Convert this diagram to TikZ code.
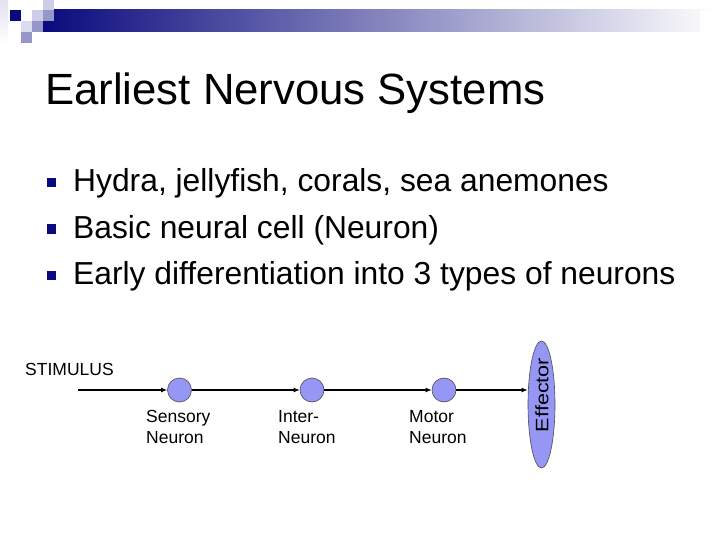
\documentclass[tikz,border=0pt]{standalone}
\usepackage{fontspec}
\setmainfont{Liberation Sans}
\usetikzlibrary{arrows.meta,shapes.geometric}
\definecolor{navy}{RGB}{10,10,125}
\definecolor{lilac}{RGB}{150,150,245}
\definecolor{pale}{RGB}{205,205,232}
\definecolor{mid}{RGB}{150,150,200}
\begin{document}
\begin{tikzpicture}[x=1pt,y=-1pt,
  neuron/.style={circle, draw=black!70, line width=0.6pt, fill=lilac, minimum size=24pt, inner sep=0},
  nlabel/.style={anchor=north west, align=left, inner sep=0, font=\fontsize{17.5}{21}\selectfont},
  bulletbox/.style={fill=navy, minimum size=9pt, inner sep=0},
  item/.style={anchor=base west, inner sep=0, font=\fontsize{31.8}{38}\selectfont},
  axon/.style={line width=1.4pt, -{Latex[length=6pt,width=5pt]}}]
\useasboundingbox (0,0) rectangle (720,540);
% header bar and squares
\shade[left color=navy, right color=white] (43,10) rectangle (720,32);
\fill[white] (700,10) rectangle (720,32);
\shade[top color=pale!60, bottom color=white] (0,0) rectangle (8,43);
\fill[navy] (10,10) rectangle (21,21);
\fill[pale!70] (21,21) rectangle (32,32);
\fill[pale] (32,10) rectangle (43,21);
\fill[mid] (32,21) rectangle (43,32);
\fill[pale] (43,0) rectangle (54,10);
\fill[mid] (43,10) rectangle (54,21);
\fill[mid] (21,32) rectangle (32,43);
% title and bullets
\node[anchor=base west, inner sep=0, font=\fontsize{43.7}{52}\selectfont] (title) at (45,105) {Earliest Nervous Systems};
\node[bulletbox] (b1) at (51.5,183) {};
\node[item] (i1) at (73,192) {Hydra, jellyfish, corals, sea anemones};
\node[bulletbox] (b2) at (51.5,229) {};
\node[item] (i2) at (73,238) {Basic neural cell (Neuron)};
\node[bulletbox] (b3) at (51.5,275) {};
\node[item] (i3) at (73,284) {Early differentiation into 3 types of neurons};
% reflex chain
\node[anchor=base west, inner sep=0, font=\fontsize{17.5}{21}\selectfont] (stimtxt) at (25,375.5) {STIMULUS};
\coordinate (stim) at (78,390);
\node[neuron] (sens) at (179.5,390) {};
\node[neuron] (inter) at (312,390) {};
\node[neuron] (mot) at (444,390) {};
\node[ellipse, draw=black!70, line width=0.6pt, fill=lilac, minimum width=27pt, minimum height=127pt, inner sep=0] (eff) at (541.5,404.5) {};
\node[rotate=90, inner sep=0, font=\fontsize{18}{21}\selectfont] (efftxt) at (542,395) {\scalebox{1.2}[1]{Effector}};
\node[nlabel] (senstxt) at (146,410) {Sensory\\Neuron};
\node[nlabel] (intertxt) at (278,410) {Inter-\\Neuron};
\node[nlabel] (mottxt) at (409,410) {Motor\\Neuron};
\draw[axon] (stim) -- (sens);
\draw[axon] (sens) -- (inter);
\draw[axon] (inter) -- (mot);
\draw[axon] (mot) -- (mot -| eff.west);
\end{tikzpicture}
\end{document}
